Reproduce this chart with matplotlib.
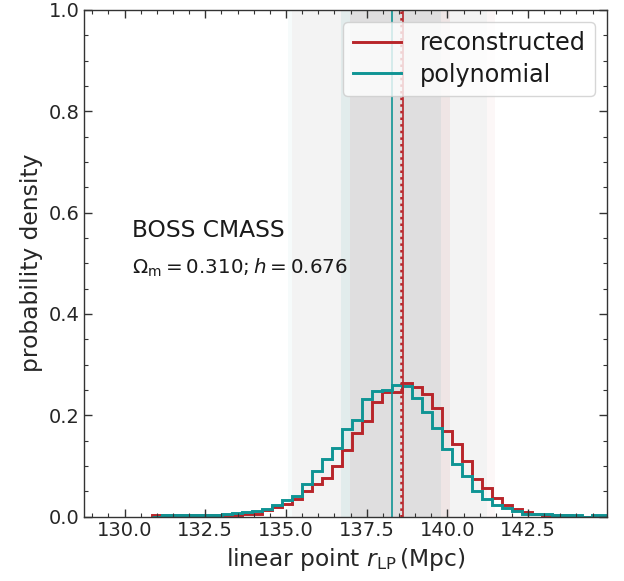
import numpy as np
import matplotlib
matplotlib.use("Agg")
import matplotlib.pyplot as plt
from matplotlib.ticker import AutoMinorLocator, MultipleLocator

# ---- data ----
bin_start = 130.84
bin_width = 0.31

reconstructed = [0.002, 0.002, 0.002, 0.002, 0.002, 0.002, 0.002, 0.002, 0.003, 0.004,
                 0.005, 0.012, 0.018, 0.024, 0.034, 0.050, 0.064, 0.076, 0.099, 0.132,
                 0.165, 0.188, 0.226, 0.245, 0.245, 0.264, 0.255, 0.242, 0.214, 0.169,
                 0.144, 0.110, 0.074, 0.056, 0.037, 0.022, 0.014, 0.009, 0.005, 0.003,
                 0.002, 0.002, 0.0, 0.0, 0.0, 0.0]
polynomial = [0.0, 0.002, 0.002, 0.002, 0.002, 0.002, 0.003, 0.005, 0.006, 0.008,
              0.010, 0.015, 0.023, 0.032, 0.041, 0.065, 0.089, 0.113, 0.135, 0.172,
              0.191, 0.232, 0.248, 0.250, 0.259, 0.257, 0.233, 0.206, 0.174, 0.134,
              0.104, 0.080, 0.051, 0.035, 0.023, 0.017, 0.010, 0.005, 0.005, 0.004,
              0.002, 0.002, 0.002, 0.0, 0.002, 0.002]

# central values and 1-sigma / 2-sigma intervals
rec_mean, rec_median = 138.61, 138.55
poly_mean = 138.28
rec_1sig = (136.97, 140.07)
rec_2sig = (135.20, 141.49)
poly_1sig = (136.69, 139.79)
poly_2sig = (135.06, 141.24)

labels = ["reconstructed", "polynomial"]
xticks = [130.0, 132.5, 135.0, 137.5, 140.0, 142.5]

red = "#b8252a"
teal = "#0f9494"

fig = plt.figure(figsize=(6.24, 5.81), dpi=100)
ax = fig.add_axes([0.135, 0.111, 0.838, 0.872])

edges = bin_start + bin_width * np.arange(len(polynomial) + 1)

# shaded confidence bands
ax.axvspan(*poly_2sig, color=teal, alpha=0.035, lw=0)
ax.axvspan(*rec_2sig, color=red, alpha=0.035, lw=0)
ax.axvspan(*poly_1sig, color=teal, alpha=0.07, lw=0)
ax.axvspan(*rec_1sig, color=red, alpha=0.065, lw=0)

ax.stairs(reconstructed, edges, color=red, lw=2.1, label=labels[0])
ax.stairs(polynomial, edges, color=teal, lw=2.1, label=labels[1])

ax.axvline(rec_median, color=red, lw=1.8, ls=":")
ax.axvline(rec_mean, color=red, lw=1.2)
ax.axvline(poly_mean, color=teal, lw=1.2)

ax.set_xlim(128.75, 144.95)
ax.set_ylim(0, 1.0)
ax.set_xticks(xticks)
ax.set_xticklabels([f"{t:.1f}" for t in xticks])
ax.yaxis.set_major_locator(MultipleLocator(0.2))
ax.xaxis.set_minor_locator(AutoMinorLocator(5))
ax.yaxis.set_minor_locator(AutoMinorLocator(4))
ax.tick_params(which="both", direction="in", top=True, right=True,
               colors="0.2", labelcolor="0.15", labelsize=14)
ax.tick_params(which="major", length=5.5, width=1.0)
ax.tick_params(which="minor", length=3, width=0.8)
for s in ax.spines.values():
    s.set_color("0.2")
    s.set_linewidth(1.0)

ax.set_xlabel(r"linear point $r_{\rm LP}\,$(Mpc)", fontsize=16.8, color="0.15")
ax.set_ylabel("probability density", fontsize=16.8, color="0.15")

ax.text(0.091, 0.565, "BOSS CMASS", transform=ax.transAxes, fontsize=16.8,
        color="0.1", va="center", ha="left")
ax.text(0.091, 0.49, r"$\Omega_{\rm m} = 0.310; h = 0.676$", transform=ax.transAxes,
        fontsize=14.3, color="0.1", va="center", ha="left")

leg = ax.legend(loc="upper right", fontsize=17.2, framealpha=0.8, labelspacing=0.3)
for t in leg.get_texts():
    t.set_color("0.1")

fig.savefig("out.png", dpi=100)
